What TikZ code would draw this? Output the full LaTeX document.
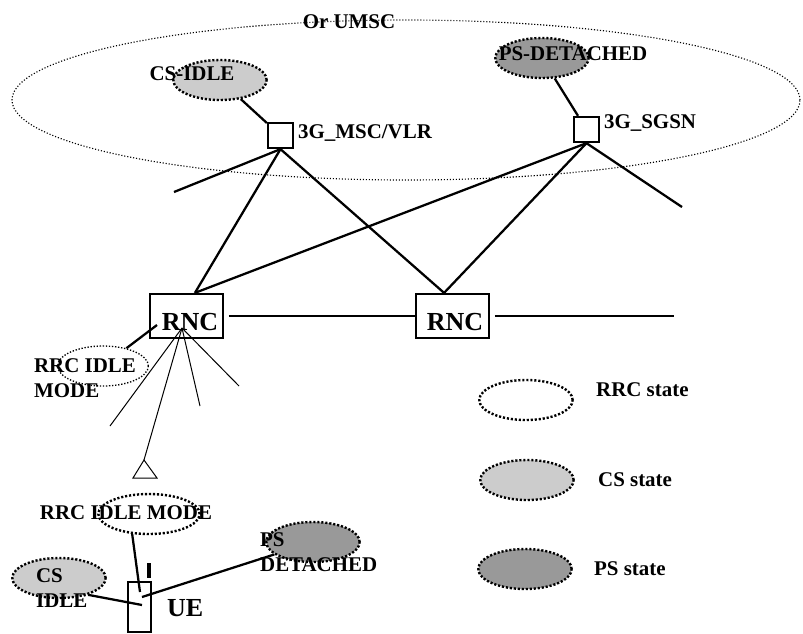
\documentclass[tikz,border=0pt]{standalone}
\usepackage{fontspec}
\setmainfont{Liberation Serif}
\usetikzlibrary{shapes.geometric}
\definecolor{csgray}{gray}{0.8}
\definecolor{psgray}{gray}{0.6}
\tikzset{every picture/.style={line width=1.7pt}}
\tikzset{
  lbl/.style={font=\fontsize{15.7}{18.5}\selectfont\bfseries, inner sep=0pt, align=left},
  big/.style={font=\fontsize{19.5}{22}\selectfont\bfseries, inner sep=0pt},
  umscarea/.style={ellipse, draw, line width=0.85pt, dash pattern=on 0.85pt off 1.4pt, minimum width=591pt, minimum height=120pt},
  state/.style={ellipse, draw, line width=1.8pt, dash pattern=on 1.6pt off 1.4pt, minimum width=70pt, minimum height=30pt, inner sep=0pt},
  rrcst/.style={state},
  rrcthin/.style={state, line width=1pt, dash pattern=on 1pt off 1.3pt, minimum width=68pt},
  csst/.style={state, fill=csgray},
  psst/.style={state, fill=psgray},
  swbox/.style={rectangle, draw, minimum size=18.75pt, inner sep=0pt},
  rncbox/.style={rectangle, draw, minimum width=55pt, minimum height=33pt, inner sep=0pt},
  uebox/.style={rectangle, draw, minimum width=17.25pt, minimum height=37.5pt, inner sep=0pt},
  wire/.style={line width=0.75pt}
}
\begin{document}
\begin{tikzpicture}[x=0.75pt,y=-0.75pt]
\useasboundingbox (0,0) rectangle (803,633);
% core network
\node[umscarea] (umsc) at (406,100) {};
\node[lbl] (umsct) at (349,22) {Or UMSC};
\node[csst] (cs1) at (220,80) {};
\node[lbl] (cs1t) at (192,74) {CS-IDLE};
\node[swbox] (msc) at (280.5,135.5) {};
\node[lbl,anchor=west] (msct) at (297,133) {3G\_MSC/VLR};
\node[psst] (ps1) at (542,58) {};
\node[lbl] (ps1t) at (573,54) {PS-DETACHED};
\node[swbox] (sgsn) at (586.5,129.5) {};
\node[lbl,anchor=west] (sgsnt) at (603,123.5) {3G\_SGSN};
%
\node[rncbox] (rnc1) at (186.5,316) {};
\node[big] (rnc1t) at (190,322) {RNC};
\node[rncbox] (rnc2) at (452.5,316) {};
\node[big] (rnc2t) at (455,322) {RNC};
\coordinate (m1) at (174,192);
\coordinate (s1) at (682,207);
\coordinate (r3) at (674,316);
\draw (cs1) -- (msc);
\draw (ps1) -- (sgsn);
\draw (msc.south) -- (m1);
\draw (msc.south) -- (rnc1.70);
\draw (msc.south) -- (rnc2.110);
\draw (sgsn.south) -- (rnc1.70);
\draw (sgsn.south) -- (rnc2.110);
\draw (sgsn.south) -- (s1);
\draw[shorten <=3.5pt] (rnc1.east) -- (rnc2.west);
\draw[shorten <=3.5pt] (rnc2.east) -- (r3);
% radio side
\node[rrcthin] (rrc1) at (103,366) {};
\node[lbl,anchor=west] (rrc1t) at (33,378) {RRC IDLE\\MODE};
\coordinate (r1) at (157,325);
\draw (rrc1) -- (r1);
\coordinate (r2) at (182,328);
\coordinate (a1) at (110,426);
\coordinate (ant) at (144,460);
\coordinate (a3) at (200,406);
\coordinate (a4) at (239,386);
\foreach \p in {a1,ant,a3,a4}
  \draw[wire] (r2) -- (\p);
\draw[wire] (ant) -- (133,478) -- (157,478) -- cycle;
% UE
\node[rrcst,minimum width=76pt] (rrc2) at (149,514) {};
\node[lbl] (rrc2t) at (126,513) {RRC IDLE MODE};
\node[csst] (cs2) at (59,578) {};
\node[lbl,anchor=west] (cs2t) at (35,588) {CS\\IDLE};
\node[psst] (ps2) at (313,542) {};
\node[lbl,anchor=west] (ps2t) at (259,552) {PS\\DETACHED};
\node[uebox] (ue) at (139.5,607) {};
\node[big,anchor=west] (uet) at (166,608.5) {UE};
\draw[line width=3.5pt] (149,563) -- (149,578);
\coordinate (u1) at (140,592);
\coordinate (u2) at (142,605);
\coordinate (u3) at (142,597);
\draw (rrc2.230) -- (u1);
\draw (cs2.-30) -- (u2);
\draw (ps2) -- (u3);
% legend
\node[rrcst] (lg1) at (526,400) {};
\node[lbl,anchor=west] (lg1t) at (595,390) {RRC state};
\node[csst] (lg2) at (527,480) {};
\node[lbl,anchor=west] (lg2t) at (597,480) {CS state};
\node[psst] (lg3) at (525,569) {};
\node[lbl,anchor=west] (lg3t) at (593,569) {PS state};
\end{tikzpicture}
\end{document}
